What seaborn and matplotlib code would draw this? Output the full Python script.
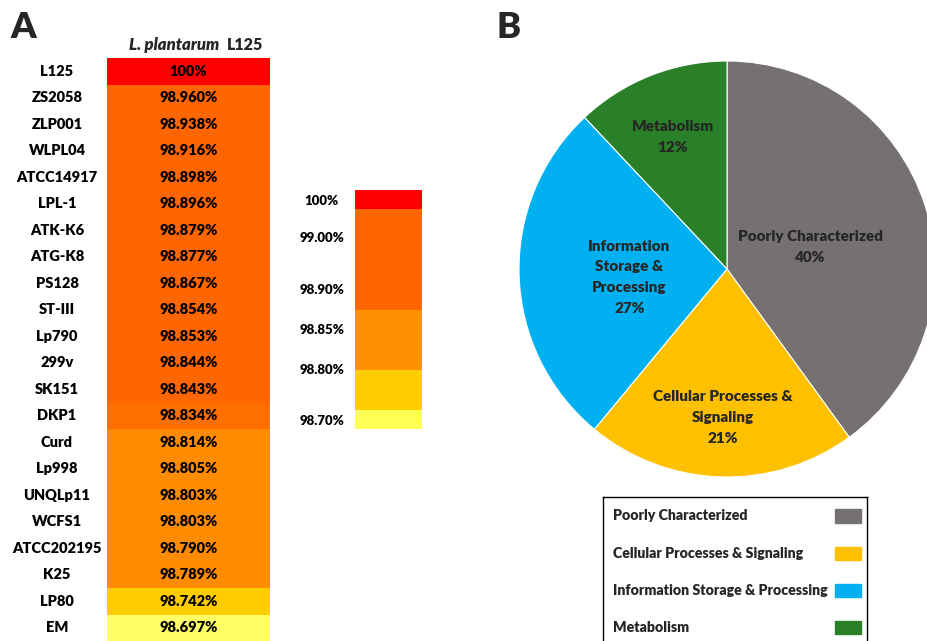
import numpy as np
import pandas as pd
import seaborn as sns
import matplotlib.pyplot as plt
from matplotlib.colors import ListedColormap, BoundaryNorm
from matplotlib.patches import Rectangle

# panel A: genome identity vs L. plantarum L125
strains = ["L125", "ZS2058", "ZLP001", "WLPL04", "ATCC14917", "LPL-1", "ATK-K6",
           "ATG-K8", "PS128", "ST-III", "Lp790", "299v", "SK151", "DKP1", "Curd",
           "Lp998", "UNQLp11", "WCFS1", "ATCC202195", "K25", "LP80", "EM"]
identity = [100, 98.960, 98.938, 98.916, 98.898, 98.896, 98.879, 98.877, 98.867,
            98.854, 98.853, 98.844, 98.843, 98.834, 98.814, 98.805, 98.803,
            98.803, 98.790, 98.789, 98.742, 98.697]
identity_labels = ["100%"] + [f"{v:.3f}%" for v in identity[1:]]

heat_colors = ["#FFFF66", "#FFCC00", "#FF8C00", "#FF7000", "#FF6600", "#FF0000"]
heat_bounds = [98.6, 98.72, 98.76, 98.82, 98.84, 99.5, 100.5]

# colour key next to the table
scale_labels = ["100%", "99.00%", "98.90%", "98.85%", "98.80%", "98.70%"]
scale_colors = ["#FF0000", "#FF6600", "#FF9000", "#FFCC00", "#FFFF55"]
scale_bands = [19, 101, 60, 40, 19]

# panel B: COG categories
categories = ["Poorly Characterized", "Cellular Processes & Signaling",
              "Information Storage & Processing", "Metabolism"]
pie_labels = ["Poorly Characterized\n40%", "Cellular Processes &\nSignaling\n21%",
              "Information\nStorage &\nProcessing\n27%", "Metabolism\n12%"]
shares = [40, 21, 27, 12]
pie_colors = ["#767171", "#FFC000", "#00B0F0", "#2A8029"]

sns.set_theme(style="white")
plt.rcParams["font.family"] = ["Lato", "DejaVu Sans"]
BOLD = 800

W, H = 928, 641
fig = plt.figure(figsize=(W / 100, H / 100), dpi=100)

def px_axes(x0, y0, x1, y1):
    return fig.add_axes([x0 / W, 1 - y1 / H, (x1 - x0) / W, (y1 - y0) / H])

#Heatmap table
ax = px_axes(107, 58, 270, 641)
df = pd.DataFrame({"L125": identity}, index=strains)
sns.heatmap(df, cmap=ListedColormap(heat_colors),
            norm=BoundaryNorm(heat_bounds, len(heat_colors)),
            annot=np.array(identity_labels).reshape(-1, 1), fmt="",
            annot_kws={"fontsize": 10.5, "fontweight": BOLD, "color": "black"},
            cbar=False, xticklabels=False, yticklabels=strains, ax=ax)
ax.set_ylabel("")
ax.tick_params(axis="y", length=0, pad=36)
for t in ax.get_yticklabels():
    t.set_rotation(0)
    t.set_ha("center")
    t.set_fontweight(BOLD)
    t.set_fontsize(10.5)
    t.set_color("black")

fig.text(219 / W, 1 - 45 / H, "L. plantarum", ha="right", va="center",
         fontsize=12, fontweight=BOLD, style="italic")
fig.text(227 / W, 1 - 45 / H, "L125", ha="left", va="center",
         fontsize=11.5, fontweight=BOLD)

#Colour key
axk = px_axes(355, 190, 422, 429)
bottoms = np.cumsum([0] + scale_bands[::-1])[:-1]
axk.bar(0, scale_bands[::-1], bottom=bottoms, width=1, color=scale_colors[::-1],
        linewidth=0)
axk.set_xlim(-0.5, 0.5)
axk.set_ylim(0, sum(scale_bands))
axk.set_yticks([229, 192, 140, 100, 60, 9])
axk.set_yticklabels(scale_labels, fontsize=9.5, fontweight=BOLD, ha="center",
                    color="black")
axk.tick_params(axis="y", length=0, pad=24)
axk.set_xticks([])
for s in axk.spines.values():
    s.set_visible(False)

#Pie chart
axp = px_axes(727 - 208, 269 - 208, 727 + 208, 269 + 208)
wedges, _ = axp.pie(shares, colors=pie_colors, startangle=90, counterclock=False,
                    wedgeprops=dict(edgecolor="white", linewidth=0.8))
axp.set_xlim(-1, 1)
axp.set_ylim(-1, 1)
axp.set_aspect("equal")
label_radius = [0.42, 0.69, 0.47, 0.71]
for w, lab, d in zip(wedges, pie_labels, label_radius):
    ang = np.deg2rad((w.theta1 + w.theta2) / 2)
    axp.text(d * np.cos(ang), d * np.sin(ang) - 0.025, lab, ha="center", va="center",
             fontsize=11, fontweight=BOLD, linespacing=1.7)

#Legend box
axl = px_axes(603, 497, 867, 650)
axl.set_xlim(0, 264)
axl.set_ylim(153, 0)
axl.set_xticks([])
axl.set_yticks([])
for s in axl.spines.values():
    s.set_color("black")
    s.set_linewidth(1)
for i, (cat, col) in enumerate(zip(categories, pie_colors)):
    y = 19 + i * 37.3
    axl.text(10, y, cat, ha="left", va="center", fontsize=10.2, fontweight=BOLD)
    axl.add_patch(Rectangle((232, y - 6.5), 26, 13, color=col))

fig.text(10 / W, 1 - 28 / H, "A", ha="left", va="center", fontsize=26, fontweight=BOLD)
fig.text(497 / W, 1 - 28 / H, "B", ha="left", va="center", fontsize=26, fontweight=BOLD)

fig.savefig("out.png", dpi=100)
